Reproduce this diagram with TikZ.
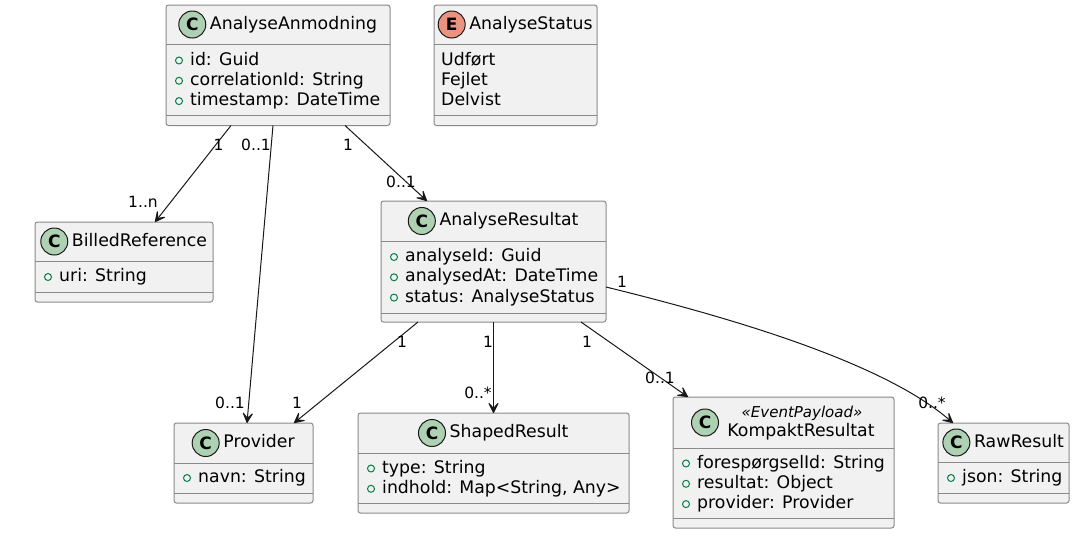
\documentclass[tikz,border=0pt]{standalone}
\usepackage{fontspec}
\setmainfont{DejaVu Sans}
\usetikzlibrary{arrows.meta}

\definecolor{boxfill}{HTML}{F1F1F1}
\definecolor{boxline}{HTML}{8A8A8A}
\definecolor{ink}{HTML}{181818}
\definecolor{classgreen}{HTML}{ADD1B2}
\definecolor{enumred}{HTML}{EB937F}
\definecolor{pubgreen}{HTML}{038048}

\tikzset{
  classbox/.style={draw=boxline, fill=boxfill, line width=1pt, rounded corners=2.5pt, inner sep=0pt, outer sep=0pt},
  sepline/.style={draw=boxline, line width=1pt},
  titletext/.style={inner sep=0pt, font=\fontsize{17.3}{20}\selectfont, text height=12.5pt, text depth=3.5pt},
  stereotext/.style={inner sep=0pt, font=\fontsize{15}{18}\selectfont\itshape, text height=11pt, text depth=3pt},
  classicon/.style={circle, draw=ink, line width=1pt, minimum size=27pt, inner sep=0pt, font=\fontsize{17}{20}\selectfont\bfseries},
  attrtext/.style={inner sep=0pt, anchor=west, font=\fontsize{17.3}{20}\selectfont, text height=12.5pt, text depth=3.5pt},
  pubmark/.style={draw=pubgreen, line width=1pt},
  conn/.style={draw=ink, line width=1pt, -{Stealth[length=13pt,width=13pt,inset=7pt,round]}},
  mult/.style={inner sep=0pt, font=\fontsize{15.5}{18}\selectfont},
}

% class frame: name, left, right, top, header rule, attribute rule, bottom
\newcommand\umlbox[7]{%
  \node[classbox, minimum width={#3-#2}, minimum height={#7-#4}] (#1) at ({(#2+#3)/2},{(#4+#7)/2}) {};
  \draw[sepline] (#2,#5) -- (#3,#5);
  \draw[sepline] (#2,#6) -- (#3,#6);
}
% public attribute row: name, box left, y, text
\newcommand\umlattr[4]{%
  \draw[pubmark] ({#2+13},#3) circle (3.5);
  \node[attrtext] (#1) at ({#2+24},#3) {#4};
}
% class title with its circled letter: name, x, y, letter, colour, text
\newcommand\umltitle[6]{%
  \node[titletext] (#1) at (#2,#3) {#6};
  \node[classicon, fill=#5] (#1-icon) at ([xshift=-17.5pt]#1.west) {#4};
}

\begin{document}
\begin{tikzpicture}[x=1pt, y=-1pt]
\fill[white] (0,0) rectangle (1080,539);
\useasboundingbox (0,0) rectangle (1080,539);

% AnalyseAnmodning
\umlbox{aa}{166}{390}{5}{44}{115.5}{125.5}
\umltitle{aa-title}{293.5}{24.5}{C}{classgreen}{AnalyseAnmodning}
\umlattr{aa-a1}{166}{60.5}{id: Guid}
\umlattr{aa-a2}{166}{80.8}{correlationId: String}
\umlattr{aa-a3}{166}{101.1}{timestamp: DateTime}

% AnalyseStatus (enum)
\umlbox{as}{434}{597}{5}{44}{115.5}{125.5}
\umltitle{as-title}{531}{24.5}{E}{enumred}{AnalyseStatus}
\node[attrtext] (as-v1) at (441,60.5) {Udført};
\node[attrtext] (as-v2) at (441,80.8) {Fejlet};
\node[attrtext] (as-v3) at (441,101.1) {Delvist};

% BilledReference
\umlbox{br}{35}{213}{222}{261}{292}{302}
\umltitle{br-title}{139.5}{241.5}{C}{classgreen}{BilledReference}
\umlattr{br-a1}{35}{277}{uri: String}

% AnalyseResultat
\umlbox{ar}{381}{606}{201}{241}{313}{322}
\umltitle{ar-title}{509}{221}{C}{classgreen}{AnalyseResultat}
\umlattr{ar-a1}{381}{257}{analyseId: Guid}
\umlattr{ar-a2}{381}{277.3}{analysedAt: DateTime}
\umlattr{ar-a3}{381}{297.6}{status: AnalyseStatus}

% Provider
\umlbox{pv}{174}{313}{423}{463}{493}{503}
\umltitle{pv-title}{259}{443}{C}{classgreen}{Provider}
\umlattr{pv-a1}{174}{478}{navn: String}

% ShapedResult
\umlbox{sr}{358}{629}{413}{453}{503}{513}
\umltitle{sr-title}{509}{433}{C}{classgreen}{ShapedResult}
\umlattr{sr-a1}{358}{468.5}{type: String}
\umlattr{sr-a2}{358}{488.8}{indhold: Map<String, Any>}

% KompaktResultat with its stereotype
\umlbox{kr}{673}{894}{397}{448}{518}{528}
\node[stereotext] (kr-stereo) at (802,413) {«EventPayload»};
\node[titletext] (kr-title) at (801,432) {KompaktResultat};
\node[classicon, fill=classgreen] (kr-icon) at (705,422.5) {C};
\umlattr{kr-a1}{673}{463.5}{forespørgselId: String}
\umlattr{kr-a2}{673}{483.8}{resultat: Object}
\umlattr{kr-a3}{673}{504.1}{provider: Provider}

% RawResult
\umlbox{rr}{938}{1069}{423}{462}{493}{503}
\umltitle{rr-title}{1019}{442.5}{C}{classgreen}{RawResult}
\umlattr{rr-a1}{938}{478}{json: String}

% associations
\draw[conn] ([xshift=65pt]aa.south west) -- ([xshift=120pt]br.north west);
\draw[conn] ([xshift=107pt]aa.south west) -- ([xshift=73pt]pv.north west);
\draw[conn] ([xshift=179pt]aa.south west) -- ([xshift=46pt]ar.north west);
\draw[conn] ([xshift=37pt]ar.south west) -- ([xshift=120pt]pv.north west);
\draw[conn] (ar.south) -- (sr.north);
\draw[conn] ([xshift=200pt]ar.south west) -- ([xshift=15pt]kr.north west);
\draw[conn] ([yshift=-25.5pt]ar.east) .. controls (720,315) and (880,360) .. ([xshift=15pt]rr.north west);

% multiplicities
\node[mult] (m1) at (218.5,145) {1};
\node[mult] (m2) at (143,202) {1..n};
\node[mult] (m3) at (256,145) {0..1};
\node[mult] (m4) at (230,403) {0..1};
\node[mult] (m5) at (348,145) {1};
\node[mult] (m6) at (401,181.5) {0..1};
\node[mult] (m7) at (402,342) {1};
\node[mult] (m8) at (297,403) {1};
\node[mult] (m9) at (488,342) {1};
\node[mult] (m10) at (478,393) {0..*};
\node[mult] (m11) at (587,342) {1};
\node[mult] (m12) at (660,378) {0..1};
\node[mult] (m13) at (622,282) {1};
\node[mult] (m14) at (932,403) {0..*};
\end{tikzpicture}
\end{document}
